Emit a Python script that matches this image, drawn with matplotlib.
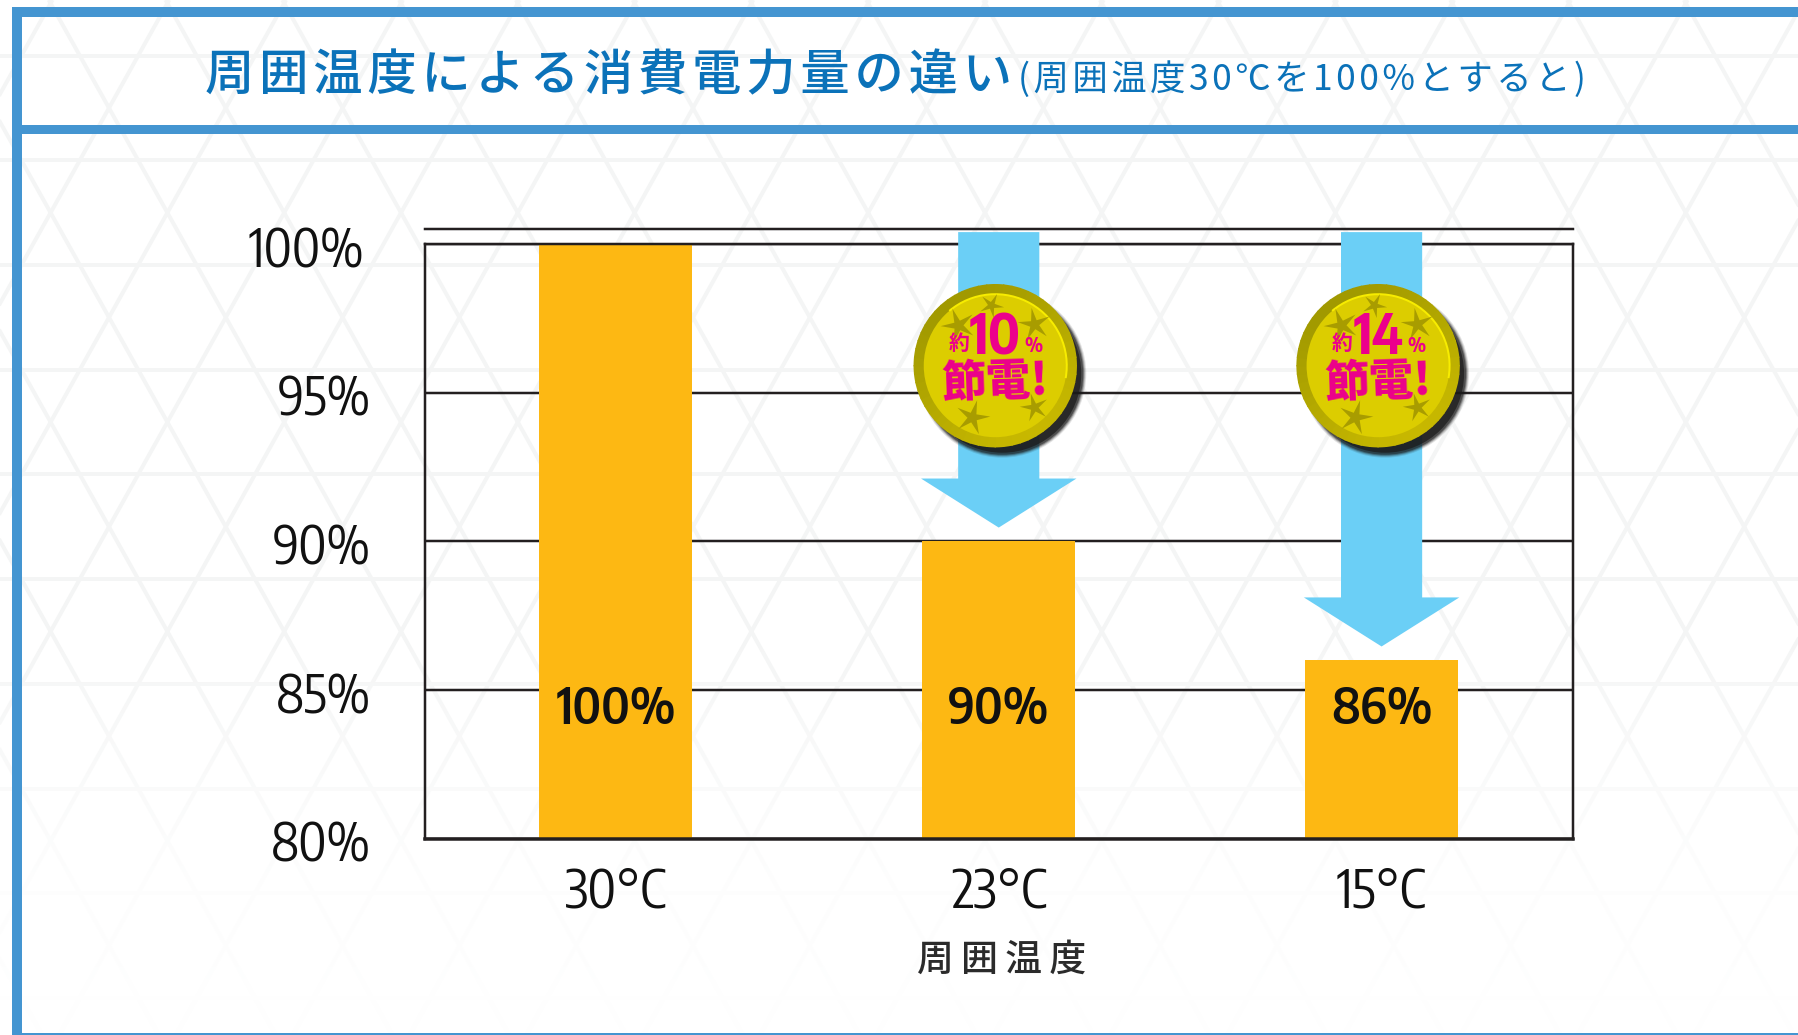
import numpy as np
from matplotlib import pyplot as plt
from matplotlib import font_manager as fm
from matplotlib.collections import LineCollection
from matplotlib.patches import Arc, Circle, Polygon, Rectangle, Wedge
from matplotlib.path import Path
from matplotlib.transforms import Affine2D, ScaledTranslation

# Data
temps = ['30°C', '23°C', '15°C']
values = [100, 90, 86]
value_labels = ['100%', '90%', '86%']
y_ticks = [80, 85, 90, 95, 100]
y_tick_labels = ['80%', '85%', '90%', '95%', '100%']
saving = [None, '10', '14']

title = '周囲温度による消費電力量の違い'
subtitle = '(周囲温度30℃を100%とすると)'
x_title = '周囲温度'

W, H = 1798, 1035
JP = ['Noto Sans CJK JP', 'DejaVu Sans']
installed = {f.name for f in fm.fontManager.ttflist}
NARROW = 'DejaVu Sans'
for name in ['Encode Sans Condensed', 'Roboto Condensed', 'Archivo Narrow', 'Liberation Sans Narrow']:
    if name in installed:
        NARROW = name
        break

BLUE = '#4495d1'
TITLE_BLUE = '#0b72b9'
ORANGE = '#fdb813'
ARROW = '#6bcff6'
DARK = '#231f20'
PINK = '#ec008c'
RIM_DARK = np.array([0.63, 0.60, 0.0])
RIM_LIGHT = np.array([0.78, 0.72, 0.0])
FACE = '#dccd00'


def px(n):
    return n * 0.72


fig = plt.figure(figsize=(W / 100, H / 100), dpi=100, facecolor='white')

# Background pattern and frame, in pixel coordinates
bg = fig.add_axes([0, 0, 1, 1], zorder=0)
bg.set_xlim(0, W)
bg.set_ylim(H, 0)
bg.axis('off')

pitch_x, pitch_y = 116.8, 104.7
segs = []
for k in range(-12, 30):
    x0 = 109 + k * pitch_x
    run = H * (pitch_x / 2) / pitch_y
    run_top = 108 * (pitch_x / 2) / pitch_y
    segs.append([(x0 - run_top, 0), (x0 - run_top + run, H)])
    segs.append([(x0 + run_top, 0), (x0 + run_top - run, H)])
for m in range(-1, 11):
    y = 55.6 + m * pitch_y
    segs.append([(0, y), (W, y)])
bg.add_collection(LineCollection(segs, colors='#f4f5f5', linewidths=px(4), zorder=1))

fade = np.ones((H, 1, 4))
fade[:, 0, 3] = np.interp(np.arange(H), [620, 880, 1035], [0, 0.85, 0.95])
bg.imshow(fade, extent=[0, W, H, 0], aspect='auto', zorder=2)
bg.set_xlim(0, W)
bg.set_ylim(H, 0)

bg.add_patch(Rectangle((12, 7), W - 12, 10, fc=BLUE, ec='none', zorder=3))
bg.add_patch(Rectangle((12, 7), 10, H - 7, fc=BLUE, ec='none', zorder=3))
bg.add_patch(Rectangle((12, 125), W - 12, 9, fc=BLUE, ec='none', zorder=3))
bg.add_patch(Rectangle((12, 1033), W - 12, 2, fc=BLUE, ec='none', zorder=3))

bg.text(205, 76, '\u200a'.join(title), family=JP, weight='medium', fontsize=35.5,
        color=TITLE_BLUE, va='center', ha='left', zorder=4)
bg.text(1018, 80, '\u200a'.join(subtitle), family=JP, fontsize=25.5,
        color=TITLE_BLUE, va='center', ha='left', zorder=4)

# Chart
ax = fig.add_axes([424.5 / W, 1 - 838.5 / H, (1573 - 424.5) / W, (838.5 - 244) / H], zorder=1)
ax.patch.set_alpha(0)
ax.set_xlim(-0.5, 2.5)
ax.set_ylim(80, 100)

ax.bar(range(3), values, width=0.4, color=ORANGE, zorder=2)
ax.set_yticks(y_ticks)
ax.set_yticklabels(y_tick_labels, family=NARROW, fontsize=37.5, color='#111111')
ax.set_xticks(range(3))
ax.set_xticklabels(temps, family=NARROW, fontsize=38, color='#111111')
ax.tick_params(axis='both', length=0)
ax.tick_params(axis='y', pad=px(54))
ax.tick_params(axis='x', pad=px(27))
ax.grid(axis='y', color=DARK, linewidth=px(2.5), zorder=1)
ax.set_axisbelow(True)

for lab, tick in zip(ax.get_yticklabels(), y_ticks):
    dx = -6 if tick == 100 else 0
    lab.set_transform(lab.get_transform() + ScaledTranslation(dx / 100, -2 / 100, fig.dpi_scale_trans))

for side in ['left', 'right', 'top']:
    ax.spines[side].set_color(DARK)
    ax.spines[side].set_linewidth(px(2.5))
ax.spines['bottom'].set_color(DARK)
ax.spines['bottom'].set_linewidth(px(3.5))

# Second line just above the top of the frame
ax.plot([-0.5, 2.5], [100.5, 100.5], color=DARK, lw=px(2.5), clip_on=False, zorder=1)

for i, v in enumerate(values):
    ax.text(i, 84.35, value_labels[i], family=NARROW, weight='semibold', fontsize=36.5,
            color='#111111', ha='center', va='center', zorder=5)

# Arrows down to the bar tops
for i, v in enumerate(values):
    if saving[i] is None:
        continue
    tip = v + 0.46
    neck = tip + 1.65
    pts = [(i - 0.106, 100.4), (i + 0.106, 100.4), (i + 0.106, neck), (i + 0.203, neck),
           (i, tip), (i - 0.203, neck), (i - 0.106, neck)]
    ax.add_patch(Polygon(pts, closed=True, fc=ARROW, ec='none', clip_on=False, zorder=3))

# x axis title, tracked out
top = fig.add_axes([0, 0, 1, 1], zorder=2)
top.set_xlim(0, W)
top.set_ylim(H, 0)
top.axis('off')
top.text(1002, 960, '\u2009'.join(x_title), family=JP, weight='medium', fontsize=26.5,
         color='#2b2b2b', ha='center', va='center')

# Coins
stars = [(-37, -41, 17, 20), (-4, -61, 12, 190), (39, -42, 16, 10), (-23, 51, 17, 345), (39, 41, 14, 15)]


def star_marker(rot):
    # thinner arms than marker=(5, 1, rot)
    return Path.unit_regular_star(5, innerCircle=0.28).transformed(Affine2D().rotate_deg(rot))


def draw_coin(cx, cy, pct):
    for r, a in [(84, 0.12), (83, 0.2), (82, 0.35), (81, 0.5), (79, 0.7)]:
        top.add_patch(Circle((cx + 7, cy + 8), r, fc='#1a1a1a', ec='none', alpha=a, zorder=1))
    for ang in range(0, 360, 6):
        # colour of the rim moves with the angle, y axis is flipped so 55 is bottom right
        t = 0.5 + 0.5 * np.cos(np.radians(ang - 55))
        top.add_patch(Wedge((cx, cy), 81.7, ang - 0.5, ang + 6.5, fc=RIM_DARK + (RIM_LIGHT - RIM_DARK) * t,
                            ec='none', zorder=2))
    top.add_patch(Circle((cx, cy), 71.5, fc=FACE, ec='none', zorder=3))
    # bright edge top to right only, angles run clockwise on screen here
    top.add_patch(Arc((cx, cy), 143, 143, theta1=230, theta2=370, ec='#f7ec00', lw=px(2), zorder=3))
    for dx, dy, r, rot in stars:
        top.plot(cx + dx, cy + dy, marker=star_marker(rot), ms=px(r * 2.1), color='#a89c00', mew=0, zorder=4)
    top.text(cx - 36, cy - 22, '約', family=JP, weight='bold', fontsize=15, color=PINK,
             ha='center', va='center', zorder=5)
    top.text(cx, cy - 28, pct, family=NARROW, weight='bold', fontsize=40, color=PINK,
             ha='center', va='center', zorder=5)
    top.text(cx + 38, cy - 20, '%', family=NARROW, weight='bold', fontsize=14, color=PINK,
             ha='center', va='center', zorder=5)
    top.text(cx, cy + 17, '節電!', family=JP, weight='black', fontsize=32, color=PINK,
             ha='center', va='center', rotation=2, zorder=5)


for i, s in enumerate(saving):
    if s is None:
        continue
    # bar centre in pixels, the coin sits a bit left of it
    bar_x = ax.transData.transform((i, 100))[0]
    draw_coin(bar_x - 3.5, 365.7, s)

fig.savefig('out.png', dpi=100)
